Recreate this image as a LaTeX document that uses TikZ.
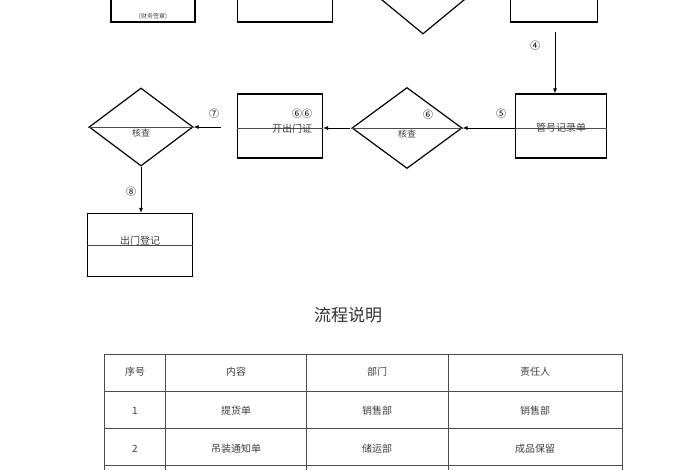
\documentclass[tikz,border=0pt]{standalone}
\usepackage{fontspec}
\newfontfamily\cjk{Noto Sans CJK SC}
\usetikzlibrary{shapes.geometric,arrows.meta}
\tikzset{
  box/.style={draw,line width=1.2pt,inner sep=0pt},
  chk/.style={draw,diamond,line width=1.2pt,inner sep=0pt,aspect=1.3},
  thin/.style={draw=black!70,line width=0.6pt},
  flow/.style={line width=0.8pt,-{Latex[length=5pt,width=4pt]}},
  lab/.style={font=\cjk\fontsize{8}{8}\selectfont,text=black!75},
  num/.style={font=\cjk\fontsize{10}{10}\selectfont},
}
\begin{document}
\begin{tikzpicture}[x=1pt,y=-1pt]
\useasboundingbox (0,0) rectangle (700,470);

%top row (cut off)
\node [box,minimum width=84,minimum height=60] (order) at (153,-8) {};
\node [lab,font=\cjk\fontsize{6}{6}\selectfont] at (153,17) {(财务签章)};
\node [box,minimum width=95,minimum height=60] (notice) at (285,-8) {};
\node [chk,minimum width=97,minimum height=80] (check1) at (423,-6) {};
\node [box,minimum width=87,minimum height=60] (store) at (554,-8) {};

%second row
\node [box,minimum width=91,minimum height=64] (record) at (561,126) {};
\node [chk,minimum width=110,minimum height=81] (check2) at (407,128) {};
\node [box,minimum width=85,minimum height=64] (pass) at (280,126) {};
\node [chk,minimum width=104,minimum height=78] (check3) at (141,127) {};

%third row
\node [box,minimum width=105,minimum height=63] (exit) at (140,245) {};

%through lines
\draw [thin] (record.west |- check2) -- (record.east |- check2);
\draw [thin] (check2.west) -- (check2.east);
\draw [thin] (pass.west |- check2) -- (pass.east |- check2);
\draw [thin] (check3.west) -- (check3.east);
\draw [thin] (exit.west) -- (exit.east);

%texts
\node [lab,font=\cjk\fontsize{10}{10}\selectfont] at (561,128) {管号记录单};
\node [lab,font=\cjk\fontsize{9}{9}\selectfont] at (407,134) {核查};
\node [lab,font=\cjk\fontsize{10}{10}\selectfont] at (292,129) {开出门证};
\node [lab,font=\cjk\fontsize{9}{9}\selectfont] at (141,133) {核查};
\node [lab,font=\cjk\fontsize{10}{10}\selectfont] at (140,241) {出门登记};

%arrows
\coordinate (s4) at (555,32);
\coordinate (s6) at (350,128);
\coordinate (s7) at (221,127);
\draw [flow] (s4) -- (record.north -| s4);
\draw [flow] (record.west |- check2) -- (check2.east);
\draw [flow] (s6) -- (pass.east |- s6);
\draw [flow] (s7) -- (check3.east);
\draw [flow] (check3.south) -- (exit.north -| check3.south);

%numbers
\node [num] at (535,46) {④};
\node [num] at (501,114) {⑤};
\node [num] at (428,115) {⑥};
\node [num] at (302,114) {⑥⑥};
\node [num] at (214,114) {⑦};
\node [num] at (131,192) {⑧};

%title
\node [font=\cjk\fontsize{17}{17}\selectfont,text=black!80] (title) at (348,315) {流程说明};

%table
\draw [thin] (104,354) rectangle (622,480);
\foreach \x in {165,306,448} \draw [thin] (\x,354) -- (\x,480);
\foreach \y in {391,428,465} \draw [thin] (104,\y) -- (622,\y);
\foreach \a/\b/\c/\d/\y in {序号/内容/部门/责任人/372,
    1/提货单/销售部/销售部/411, 2/吊装通知单/储运部/成品保留/449}
  {\node [lab,font=\cjk\fontsize{10}{10}\selectfont] at (135,\y) {\a};
   \node [lab,font=\cjk\fontsize{10}{10}\selectfont] at (236,\y) {\b};
   \node [lab,font=\cjk\fontsize{10}{10}\selectfont] at (377,\y) {\c};
   \node [lab,font=\cjk\fontsize{10}{10}\selectfont] at (535,\y) {\d};}

\end{tikzpicture}
\end{document}
